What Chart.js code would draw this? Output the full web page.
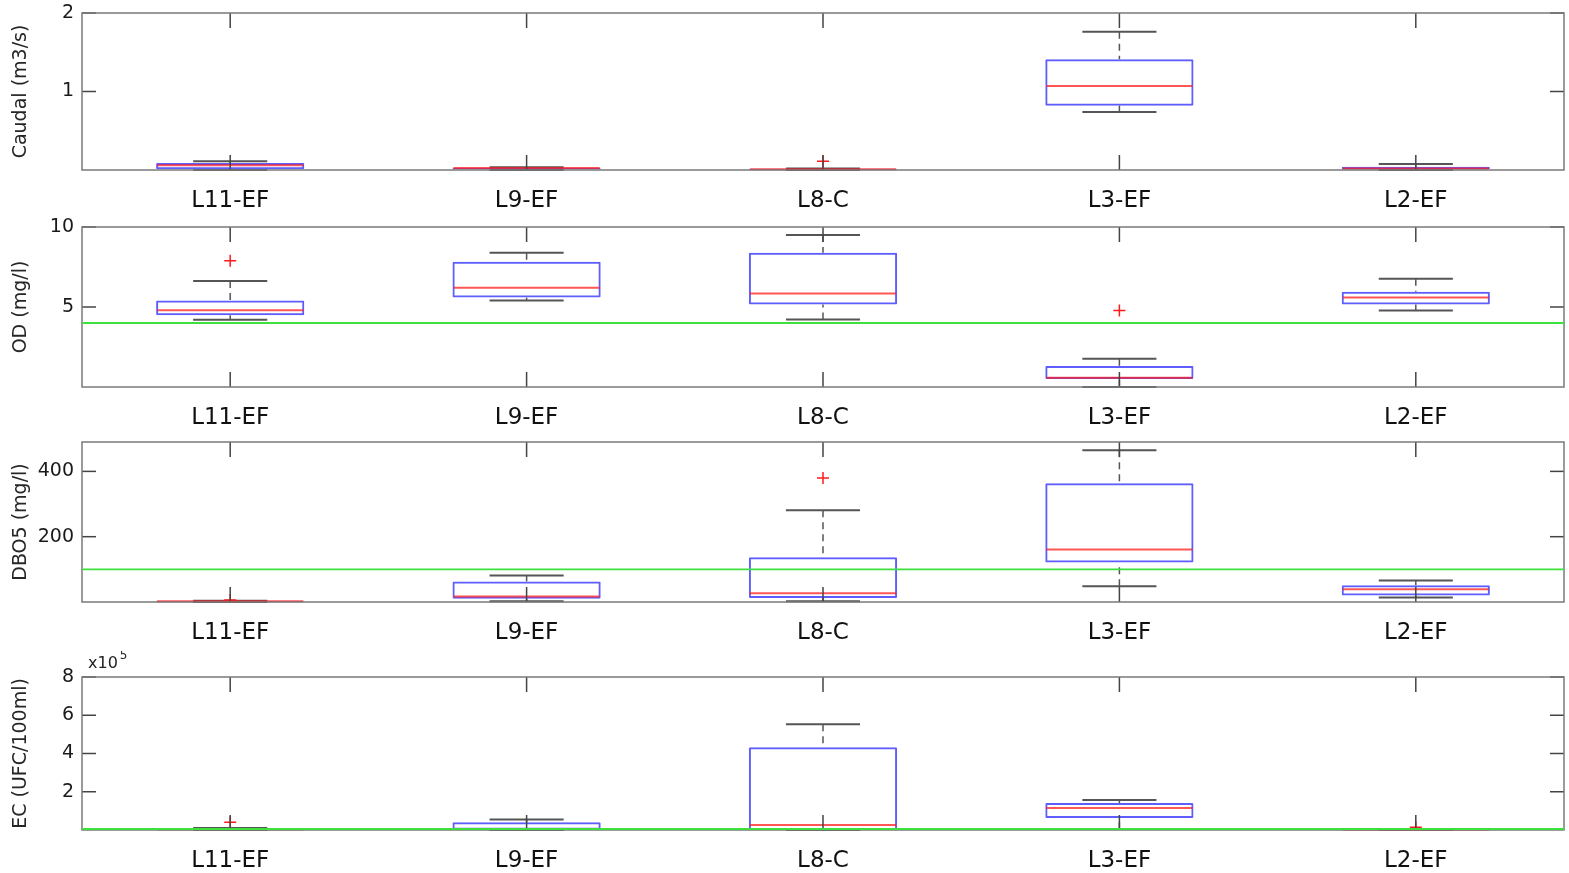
<!DOCTYPE html>
<html>
<head>
<meta charset="utf-8">
<script src="https://cdn.jsdelivr.net/npm/chart.js@4.4.0/dist/chart.umd.min.js"></script>
<style>
html, body { margin:0; padding:0; background:#fff; overflow:hidden; width:1569px; height:873px; }
canvas { position:absolute; left:0; }
</style>
</head>
<body>
<canvas id="c1"></canvas>
<canvas id="c2"></canvas>
<canvas id="c3"></canvas>
<canvas id="c4"></canvas>
<script>
const sites = ['L11-EF', 'L9-EF', 'L8-C', 'L3-EF', 'L2-EF'];

// each row: [lower whisker, q1, median, q3, upper whisker]
const caudalBox = [[0.0, 0.01, 0.06, 0.09, 0.11], [0.0, 0.005, 0.025, 0.03, 0.035], [0.0, 0.003, 0.01, 0.015, 0.02], [0.74, 0.82, 1.07, 1.41, 1.76], [0.0, 0.005, 0.02, 0.04, 0.077]];
const caudalOut = [null, null, 0.11, null, null];
const caudalTicks = [1, 2];

const odBox = [[4.2, 4.49, 4.8, 5.4, 6.63], [5.4, 5.59, 6.21, 7.83, 8.39], [4.22, 5.16, 5.84, 8.39, 9.5], [0.0, 0.5, 0.58, 1.32, 1.76], [4.78, 5.16, 5.59, 5.96, 6.77]];
const odOut = [7.89, null, null, 4.78, null];
const odTicks = [5, 10];
const odLimit = 4;

const dboBox = [[0, 1, 2, 3, 4], [2, 10, 17, 63, 81], [2, 12, 27, 137, 281], [48, 121, 161, 364, 465], [14, 20, 39, 51, 66]];
const dboOut = [6, null, 380, null, null];
const dboTicks = [200, 400];
const dboLimit = 100;

const ecBox = [[0, 1000, 2000, 4000, 10000], [0, 1000, 5000, 40000, 55000], [0, 500, 26000, 433000, 553000], [5000, 63000, 115000, 141000, 157000], [0, 500, 1000, 2000, 5000]];
const ecOut = [40000, null, null, null, 15000];
const ecTicks = [200000, 400000, 600000, 800000];
const ecLimit = 1000;

const FONT = 'DejaVu Sans';

function seg(ctx, x1, y1, x2, y2) {
    ctx.beginPath(); ctx.moveTo(x1, y1); ctx.lineTo(x2, y2); ctx.stroke();
}

function noPad(s) {
    s.paddingTop = 0; s.paddingBottom = 0; s.paddingLeft = 0; s.paddingRight = 0;
}

const boxPlugin = {
    id: 'boxes',
    beforeDatasetsDraw(chart, args, opts) {
        const {ctx} = chart;
        const x = chart.scales.x, y = chart.scales.y;
        const step = x.getPixelForValue(1) - x.getPixelForValue(0);
        ctx.save();
        opts.stats.forEach((s, i) => {
            const cx = x.getPixelForValue(i);
            const lo = y.getPixelForValue(s[0]), q1 = y.getPixelForValue(s[1]);
            const q3 = y.getPixelForValue(s[3]), hi = y.getPixelForValue(s[4]);
            ctx.strokeStyle = '#555';
            ctx.lineWidth = 1.5;
            ctx.setLineDash([7, 5]);
            seg(ctx, cx, hi, cx, q3);
            seg(ctx, cx, lo, cx, q1);
            ctx.setLineDash([]);
            ctx.lineWidth = 2;
            seg(ctx, cx - step / 8, hi, cx + step / 8, hi);
            seg(ctx, cx - step / 8, lo, cx + step / 8, lo);
        });
        ctx.restore();
    },
    afterDatasetsDraw(chart, args, opts) {
        const {ctx} = chart;
        const x = chart.scales.x, y = chart.scales.y;
        const step = x.getPixelForValue(1) - x.getPixelForValue(0);
        ctx.save();
        ctx.strokeStyle = 'rgba(255,30,30,0.75)';
        ctx.lineWidth = 2;
        opts.stats.forEach((s, i) => {
            const cx = x.getPixelForValue(i);
            const m = y.getPixelForValue(s[2]);
            seg(ctx, cx - step / 4 + 1, m, cx + step / 4 - 1, m);
        });
        ctx.restore();
    },
    afterDraw(chart, args, opts) {
        const {ctx, chartArea: a} = chart;
        const x = chart.scales.x, y = chart.scales.y;
        ctx.save();
        ctx.strokeStyle = '#444';
        ctx.lineWidth = 1.5;
        x.ticks.forEach((t, i) => {
            const px = x.getPixelForTick(i);
            seg(ctx, px, a.bottom, px, a.bottom - 15);
            seg(ctx, px, a.top, px, a.top + 15);
        });
        y.ticks.forEach(t => {
            const py = y.getPixelForValue(t.value);
            seg(ctx, a.left, py, a.left + 14, py);
            seg(ctx, a.right, py, a.right - 14, py);
        });
        ctx.strokeStyle = '#7a7a7a';
        ctx.strokeRect(a.left, a.top, a.right - a.left, a.bottom - a.top);
        // limit line on top of the frame
        if (opts.limit != null) {
            const ly = Math.min(y.getPixelForValue(opts.limit), a.bottom - 1);
            ctx.strokeStyle = '#3ee03e';
            ctx.lineWidth = 1.8;
            seg(ctx, a.left, ly, a.right, ly);
        }
        if (opts.exponent) {
            ctx.fillStyle = '#222';
            ctx.textBaseline = 'alphabetic';
            ctx.font = '16px "' + FONT + '"';
            ctx.fillText('x10', a.left + 6, a.top - 9);
            const w = ctx.measureText('x10').width;
            ctx.font = '12px "' + FONT + '"';
            ctx.fillText(opts.exponent, a.left + 8 + w, a.top - 18);
        }
        ctx.restore();
    }
};

function makePanel(id, top, bottom, padTop, box, outliers, ticks, max, title, limit, fmt, exponent) {
    const el = document.getElementById(id);
    const h = padTop + (bottom - top) + 45;
    el.style.top = (top - padTop) + 'px';
    el.width = 1569; el.height = h;
    el.style.width = '1569px'; el.style.height = h + 'px';
    new Chart(el, {
        type: 'bar',
        data: {
            labels: sites,
            datasets: [
                {
                    type: 'line',
                    data: outliers,
                    showLine: false,
                    pointStyle: 'cross',
                    pointRadius: 6,
                    pointBorderColor: '#ff1a1a',
                    pointBorderWidth: 1.5,
                    order: 0
                },
                {
                    data: box.map(s => [s[1], s[3]]),
                    backgroundColor: 'rgba(0,0,0,0)',
                    borderColor: 'rgba(40,40,255,0.75)',
                    borderWidth: 2,
                    borderSkipped: false,
                    borderRadius: 1,
                    barPercentage: 0.5,
                    categoryPercentage: 1.0,
                    order: 1
                }
            ]
        },
        options: {
            responsive: false,
            animation: false,
            events: [],
            layout: { autoPadding: false, padding: { top: padTop, right: 5, left: 0, bottom: 0 } },
            plugins: {
                legend: { display: false },
                tooltip: { enabled: false },
                boxes: { stats: box, limit: limit, exponent: exponent }
            },
            scales: {
                x: {
                    type: 'category',
                    offset: true,
                    grid: { display: false, drawTicks: false },
                    border: { display: false },
                    ticks: { font: { family: FONT, size: 23 }, color: '#111', padding: 17, maxRotation: 0, autoSkip: false },
                    afterFit: s => { s.height = 45; noPad(s); }
                },
                y: {
                    min: 0,
                    max: max,
                    grid: { display: false, drawTicks: false },
                    border: { display: false },
                    afterBuildTicks: s => { s.ticks = ticks.map(v => ({ value: v })); },
                    afterFit: s => { s.width = 82; noPad(s); },
                    ticks: { font: { family: FONT, size: 19 }, color: '#1a1a1a', padding: 8, callback: fmt },
                    title: { display: true, text: title, font: { family: FONT, size: 19 }, color: '#262626', padding: { top: 10, bottom: 0 } }
                }
            }
        },
        plugins: [boxPlugin]
    });
}

makePanel('c1', 13, 170, 12, caudalBox, caudalOut, caudalTicks, 2, 'Caudal (m3/s)', null, v => v);
makePanel('c2', 227, 387, 12, odBox, odOut, odTicks, 10, 'OD (mg/l)', odLimit, v => v);
makePanel('c3', 442, 602, 12, dboBox, dboOut, dboTicks, 490, 'DBO5 (mg/l)', dboLimit, v => v);
makePanel('c4', 677, 830, 26, ecBox, ecOut, ecTicks, 800000, 'EC (UFC/100ml)', ecLimit, v => v / 100000, '5');
</script>
</body>
</html>
